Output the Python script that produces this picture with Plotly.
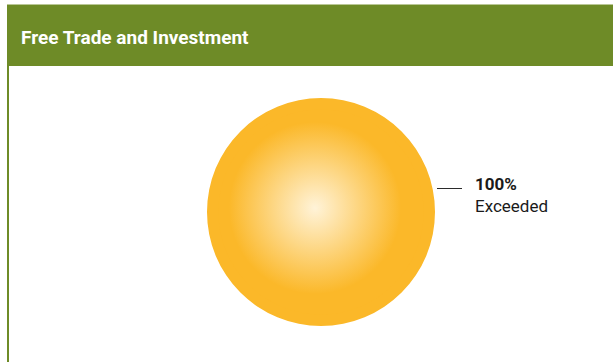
import plotly.graph_objects as go

# Goal progress for the category
categories = ["Exceeded"]
percent_values = [100]
panel_title = "Free Trade and Investment"

W, H = 613, 362
GREEN = "#6E8B27"
ORANGE = "#FBB829"
PALE = "#FFF3D8"
FONT = "Roboto, Arial, sans-serif"

# pie geometry in pixels
cx, cy, r = 321, 212, 114
HOLE = 0.9


def px_x(x):
    return x / W


def px_y(y):
    return 1 - y / H


fig = go.Figure()

# disc filling the pie's centre opening (drawn underneath the pie layer)
fig.add_trace(go.Scatter(
    x=[cx], y=[H - cy],
    mode="markers",
    marker=dict(size=2 * r * HOLE + 4, color=ORANGE, line=dict(width=0)),
    hoverinfo="skip",
    showlegend=False,
))

# soft highlight, a little up and to the left of centre
# (radial gradient: gradient.color at the centre, marker.color at the rim)
fig.add_trace(go.Scatter(
    x=[cx - 6], y=[H - cy + 4],
    mode="markers",
    marker=dict(size=172, color=ORANGE, line=dict(width=0),
                gradient=dict(type="radial", color=PALE)),
    hoverinfo="skip",
    showlegend=False,
))

fig.add_trace(go.Pie(
    labels=categories,
    values=percent_values,
    hole=HOLE,
    marker=dict(colors=[ORANGE], line=dict(width=0)),
    textinfo="none",
    hoverinfo="label+percent",
    sort=False,
    showlegend=False,
    domain=dict(x=[px_x(cx - r), px_x(cx + r)], y=[px_y(cy + r), px_y(cy - r)]),
))

shapes = [
    # header band
    dict(type="rect", xref="paper", yref="paper",
         x0=px_x(7), x1=1, y0=px_y(66), y1=px_y(5),
         fillcolor=GREEN, line=dict(width=0), layer="below"),
    dict(type="line", xref="paper", yref="paper",
         x0=px_x(7), x1=1, y0=px_y(4.5), y1=px_y(4.5),
         line=dict(color="#B9C795", width=1)),
    # left border
    dict(type="line", xref="paper", yref="paper",
         x0=px_x(8), x1=px_x(8), y0=px_y(66), y1=0,
         line=dict(color=GREEN, width=2)),
    # leader line
    dict(type="line", xref="paper", yref="paper",
         x0=px_x(437), x1=px_x(462), y0=px_y(188.5), y1=px_y(188.5),
         line=dict(color="#2b2b2b", width=1)),
]

annotations = [
    dict(text=f"<b>{panel_title}</b>", xref="paper", yref="paper",
         x=px_x(19), y=px_y(37), xanchor="left", yanchor="middle",
         showarrow=False, font=dict(family=FONT, size=19, color="white")),
    dict(text=f"<b>{percent_values[0]}%</b>", xref="paper", yref="paper",
         x=px_x(473), y=px_y(184), xanchor="left", yanchor="middle",
         showarrow=False, font=dict(family=FONT, size=17, color="#1a1a1a")),
    dict(text=categories[0], xref="paper", yref="paper",
         x=px_x(473), y=px_y(206), xanchor="left", yanchor="middle",
         showarrow=False, font=dict(family=FONT, size=17, color="#1a1a1a")),
]

fig.update_layout(
    width=W, height=H,
    margin=dict(l=0, r=0, t=0, b=0),
    paper_bgcolor="white",
    plot_bgcolor="rgba(0,0,0,0)",
    xaxis=dict(range=[0, W], visible=False, fixedrange=True),
    yaxis=dict(range=[0, H], visible=False, fixedrange=True),
    shapes=shapes,
    annotations=annotations,
)

fig.write_html("out.html", config=dict(displayModeBar=False))
